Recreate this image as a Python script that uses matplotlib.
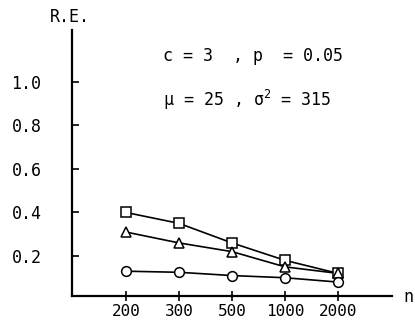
import matplotlib.pyplot as plt

plt.rcParams['font.family'] = ['DejaVu Sans Mono']

# relative efficiency for each sample size
n_labels = ['200', '300', '500', '1000', '2000']
re_square = [0.40, 0.35, 0.26, 0.18, 0.12]
re_triangle = [0.31, 0.26, 0.22, 0.15, 0.12]
re_circle = [0.13, 0.125, 0.11, 0.10, 0.08]

W, H = 415, 325
fig = plt.figure(figsize=(W / 100, H / 100), dpi=100)
ax = fig.add_axes([72 / W, 29 / H, 320 / W, 266 / H])

xs = range(len(n_labels))
for vals, mk in [(re_square, 's'), (re_triangle, '^'), (re_circle, 'o')]:
    ax.plot(xs, vals, color='black', lw=1.2, zorder=2)
    ax.plot(xs, vals, linestyle='none', marker=mk, ms=7, mfc='white',
            mec='black', mew=1.1, zorder=3)

ax.set_xlim(-1.02, 5.02)
ax.set_ylim(0.016, 1.239)
ax.set_xticks(list(xs))
ax.set_xticklabels(n_labels, fontsize=11.5)
ax.set_yticks([0.2, 0.4, 0.6, 0.8, 1.0])
ax.set_yticklabels(['0.2', '0.4', '0.6', '0.8', '1.0'], fontsize=12)
ax.tick_params(axis='y', direction='in', length=5, width=1.2, pad=22)
ax.tick_params(axis='x', direction='inout', length=7, width=1.2, pad=2)

for s in ['top', 'right']:
    ax.spines[s].set_visible(False)
for s in ['left', 'bottom']:
    ax.spines[s].set_linewidth(1.6)

fig.text(70 / W, 1 - 17 / H, 'R.E.', ha='center', va='center', fontsize=12)
fig.text(163 / W, 1 - 56 / H, 'c = 3  , p  = 0.05', ha='left', va='center',
         fontsize=12)
fig.text(163 / W, 1 - 100 / H, r'$\mathregular{\mu}$ = 25 , $\mathregular{\sigma^2}$ = 315',
         ha='left', va='center', fontsize=12)
fig.text(403 / W, 1 - 297 / H, 'n', ha='left', va='center', fontsize=12)

fig.savefig('out.png', dpi=100)
